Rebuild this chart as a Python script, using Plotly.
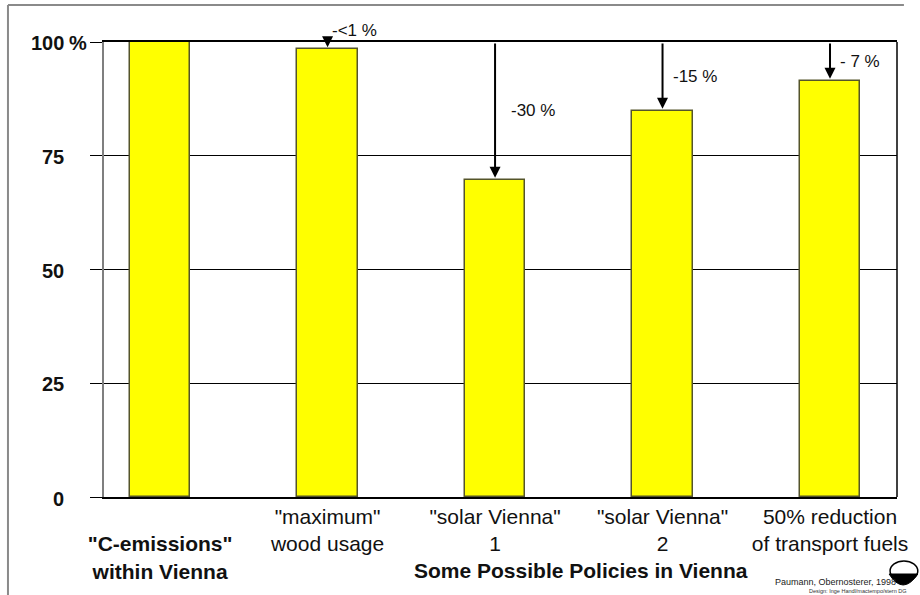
import plotly.graph_objects as go

# ---- data -------------------------------------------------------------
category_lines = [
    ('"C-emissions"', "within Vienna"),
    ('"maximum"', "wood usage"),
    ('"solar Vienna"', "1"),
    ('"solar Vienna"', "2"),
    ("50% reduction", "of transport fuels"),
]
emission_share = [100, 98.4, 69.7, 84.9, 91.5]
change_labels = ["", "-<1 %", "-30 %", "-15 %", "- 7 %"]
y_tick_values = [0, 25, 50, 75, 100]
y_tick_labels = ["0", "25", "50", "75", "100"]
y_unit = "%"
axis_title = "Some Possible Policies in Vienna"
credit = "Paumann, Obernosterer, 1998"
design_credit = "Design: Inge Handl/mactempo/stern DG"

# ---- layout constants ------------------------------------------------
W, H = 920, 595
ML, MR, MT, MB = 104, 15, 42, 98
PW, PH = W - ML - MR, H - MT - MB
FONT = "Liberation Sans, Arial, sans-serif"


def px_x(px):
    return (px - ML) / PW


def px_y(py):
    return (H - MB - py) / PH


x_pos = list(range(len(emission_share)))

# baseline bar gets a bold label one line lower than the policy bars
tick_text = []
for i, (a, b) in enumerate(category_lines):
    if i == 0:
        tick_text.append("\u00a0<br><b>%s</b><br><b>%s</b>" % (a, b))
    else:
        tick_text.append("%s<br>%s" % (a, b))

fig = go.Figure(
    go.Bar(
        x=x_pos,
        y=emission_share,
        width=0.36,
        marker=dict(color="#FFFF00", line=dict(color="#55552a", width=1.5)),
        hoverinfo="skip",
    )
)

annotations = []
for i, (v, lab) in enumerate(zip(emission_share, change_labels)):
    if not lab:
        continue
    # arrow from the 100 % line down to the bar top
    annotations.append(dict(
        x=i, y=v, ax=i, ay=100, xref="x", yref="y", axref="x", ayref="y",
        text="", showarrow=True, arrowhead=2, arrowsize=1.1, arrowwidth=2,
        arrowcolor="black", standoff=2,
    ))
    label_y = 102.6 if v > 97 else (100 + v) / 2
    shift = 14 if v < 75 else (2 if v > 97 else 8)
    annotations.append(dict(
        x=i, y=label_y / 100, xref="x", yref="paper", text=lab, showarrow=False,
        xanchor="left", yanchor="middle", xshift=shift,
        font=dict(family=FONT, size=17, color="#111111"),
    ))

# y tick labels, set well clear of the tick marks; unit sign on the top one
for val, lab in zip(y_tick_values, y_tick_labels):
    annotations.append(dict(
        x=px_x(66), y=val, xref="paper", yref="y", text="<b>%s</b>" % lab,
        showarrow=False, xanchor="right", yanchor="middle",
        yshift=-2 if val == 0 else -1,
        font=dict(family=FONT, size=20, color="#111111"),
    ))
annotations.append(dict(
    x=px_x(89), y=100, xref="paper", yref="y", text="<b>%s</b>" % y_unit,
    showarrow=False, xanchor="right", yanchor="middle", yshift=-1,
    font=dict(family=FONT, size=20, color="#111111"),
))
annotations.append(dict(
    x=px_x(586), y=px_y(570), xref="paper", yref="paper", text="<b>%s</b>" % axis_title,
    showarrow=False, xanchor="center", yanchor="middle",
    font=dict(family=FONT, size=21, color="#111111"),
))
annotations.append(dict(
    x=px_x(905), y=px_y(582), xref="paper", yref="paper", text=credit,
    showarrow=False, xanchor="right", yanchor="middle", borderpad=0,
    font=dict(family=FONT, size=9, color="#222222"),
))
annotations.append(dict(
    x=px_x(815), y=px_y(591), xref="paper", yref="paper", text=design_credit,
    showarrow=False, xanchor="left", yanchor="middle", borderpad=0,
    font=dict(family=FONT, size=5.5, color="#333333"),
))

shapes = [
    # right edge of the plot frame
    dict(type="line", xref="paper", yref="paper", x0=1, x1=1, y0=0, y1=1,
         line=dict(color="black", width=1.5), layer="above"),
    # page frame (top and left)
    dict(type="line", xref="paper", yref="paper", x0=px_x(7), x1=px_x(912),
         y0=px_y(5), y1=px_y(5), line=dict(color="#8a8a8a", width=2)),
    dict(type="line", xref="paper", yref="paper", x0=px_x(7), x1=px_x(7),
         y0=px_y(5), y1=px_y(600), line=dict(color="#8a8a8a", width=2)),
    # small logo in the corner
    dict(type="circle", xref="paper", yref="paper", x0=px_x(898), x1=px_x(926),
         y0=px_y(561), y1=px_y(581), line=dict(color="black", width=1.5),
         fillcolor="white"),
    dict(type="path", xref="paper", yref="paper",
         path="M %f %f Q %f %f %f %f Z" % (
             px_x(897), px_y(574), px_x(911), px_y(596), px_x(926), px_y(574)),
         line=dict(color="black", width=1), fillcolor="black"),
]

fig.update_layout(
    width=W, height=H, autosize=False,
    margin=dict(l=ML, r=MR, t=MT, b=MB, pad=0),
    paper_bgcolor="white", plot_bgcolor="white",
    showlegend=False, bargap=0,
    font=dict(family=FONT, color="#111111"),
    annotations=annotations, shapes=shapes,
    xaxis=dict(
        range=[-0.335, 4.40], tickmode="array", tickvals=x_pos, ticktext=tick_text,
        tickfont=dict(family=FONT, size=21, color="#111111"),
        showline=True, linecolor="black", linewidth=1.5, mirror=True,
        showgrid=False, zeroline=False, ticks="", fixedrange=True,
    ),
    yaxis=dict(
        range=[0, 100], tickmode="array", tickvals=y_tick_values,
        showticklabels=False,
        showline=True, linecolor="#7f7f7f", linewidth=2,
        showgrid=True, gridcolor="black", gridwidth=1, zeroline=False,
        ticks="outside", ticklen=12, tickcolor="black", tickwidth=1,
        fixedrange=True,
    ),
)

fig.write_html("out.html")
